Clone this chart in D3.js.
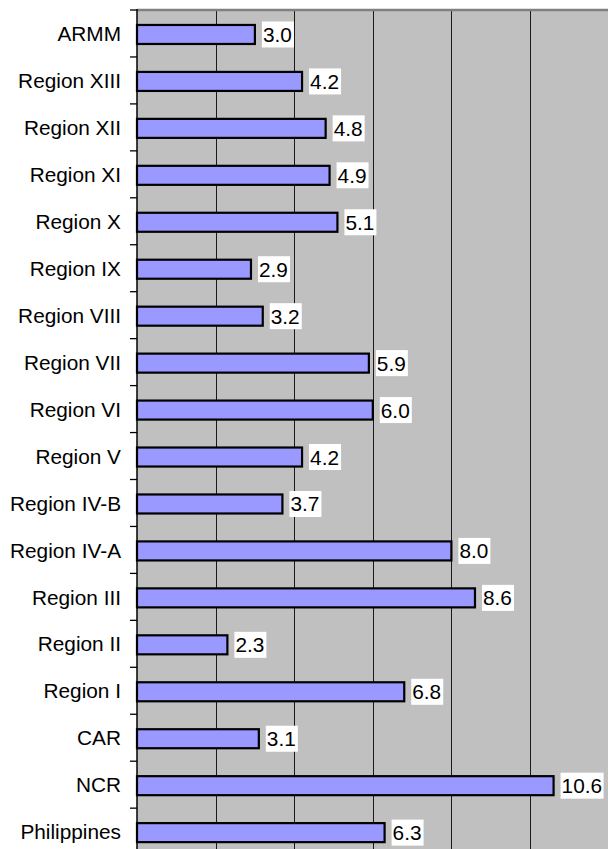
<!DOCTYPE html>
<html>
<head>
<meta charset="utf-8">
<script src="https://cdn.jsdelivr.net/npm/d3@7"></script>
<style>
  html, body { margin: 0; padding: 0; background: #fff; }
  svg { display: block; }
  text { font-family: "Liberation Sans", Arial, sans-serif; }
</style>
</head>
<body>
<svg id="chart" width="608" height="849"></svg>
<script>
const categories = ["ARMM", "Region XIII", "Region XII", "Region XI", "Region X", "Region IX",
  "Region VIII", "Region VII", "Region VI", "Region V", "Region IV-B", "Region IV-A",
  "Region III", "Region II", "Region I", "CAR", "NCR", "Philippines"];
const values = [3.0, 4.2, 4.8, 4.9, 5.1, 2.9, 3.2, 5.9, 6.0, 4.2, 3.7, 8.0, 8.6, 2.3, 6.8, 3.1, 10.6, 6.3];
const gridTicks = [2, 4, 6, 8, 10, 12];

(function () {
const svg = d3.select("#chart");
const pLeft = 137, pRight = 608.6, pTop = 10, step = 46.95;
const pBottom = pTop + step * categories.length;
const fs = 20.8;

const x = d3.scaleLinear().domain([0, 12]).range([pLeft, pRight]);
const y = d3.scaleBand().domain(categories).range([pTop, pBottom])
  .paddingInner(0.595).paddingOuter(0.2975);

// plot background
svg.append("rect").attr("x", pLeft).attr("y", pTop)
  .attr("width", pRight - pLeft).attr("height", pBottom - pTop).attr("fill", "#c0c0c0");

// gridlines
svg.append("g").selectAll("line").data(gridTicks).join("line")
  .attr("x1", d => Math.round(x(d)) + 0.5).attr("x2", d => Math.round(x(d)) + 0.5)
  .attr("y1", pTop).attr("y2", pBottom)
  .attr("stroke", "#1a1a1a").attr("stroke-width", 1);

// top border
svg.append("line").attr("x1", pLeft).attr("x2", pRight).attr("y1", pTop).attr("y2", pTop)
  .attr("stroke", "#808080").attr("stroke-width", 2.5);

// bars
svg.append("g").selectAll("rect").data(values).join("rect")
  .attr("x", x(0))
  .attr("y", (d, i) => y(categories[i]) + 1)
  .attr("width", d => x(d) - x(0))
  .attr("height", y.bandwidth())
  .attr("fill", "#9999ff")
  .attr("stroke", "#000")
  .attr("stroke-width", 2.2);

// y axis
const yAxis = d3.axisLeft(y).tickSize(0).tickPadding(16);
const gy = svg.append("g").attr("transform", `translate(${pLeft},1)`).call(yAxis);
gy.select(".domain").remove();
gy.selectAll("text").attr("font-size", fs).attr("fill", "#000")
  .attr("font-family", "'Liberation Sans', Arial, sans-serif");

// axis line and boundary ticks
svg.append("line").attr("x1", pLeft).attr("x2", pLeft).attr("y1", pTop - 1).attr("y2", pBottom)
  .attr("stroke", "#000").attr("stroke-width", 1.5);
const bounds = categories.map(c => y(c) - y.step() * y.paddingInner() / 2);
bounds.push(pBottom);
svg.append("g").selectAll("line").data(bounds).join("line")
  .attr("x1", pLeft - 7).attr("x2", pLeft).attr("y1", d => d).attr("y2", d => d)
  .attr("stroke", "#000").attr("stroke-width", 1.3);

// value labels
const lab = svg.append("g").selectAll("g").data(values).join("g")
  .attr("transform", (d, i) => `translate(${x(d) + 7},${y(categories[i]) + 1 + y.bandwidth() / 2})`);
lab.append("rect").attr("x", 0).attr("y", -13).attr("height", 26)
  .attr("width", d => d >= 10 ? 43 : 32).attr("fill", "#fff");
lab.append("text").attr("x", 1).attr("dy", "0.36em").attr("font-size", fs).attr("fill", "#000")
  .text(d => d.toFixed(1));
})();
</script>
</body>
</html>
